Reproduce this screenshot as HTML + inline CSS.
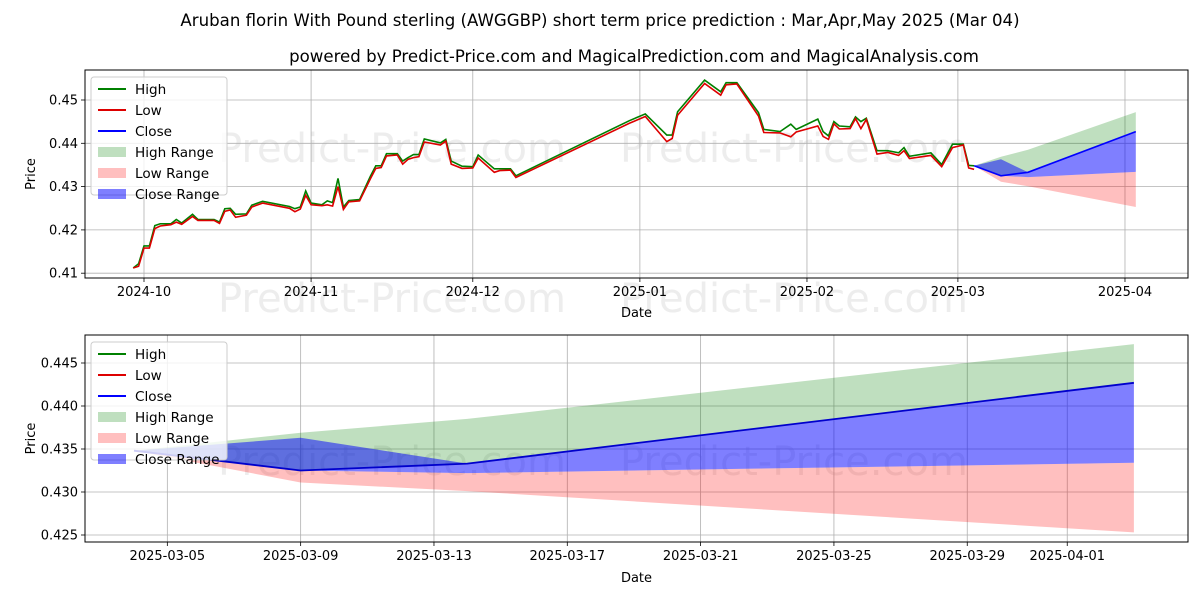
<!DOCTYPE html>
<html><head><meta charset="utf-8"><style>
html,body{margin:0;padding:0;background:#fff;}
svg{display:block;font-family:"DejaVu Sans","Liberation Sans",sans-serif;}
</style></head><body>
<svg id="c" width="1200" height="600" xmlns="http://www.w3.org/2000/svg">
<text x="600" y="26" text-anchor="middle" font-size="16.6">Aruban florin With Pound sterling (AWGGBP) short term price prediction : Mar,Apr,May 2025 (Mar 04)</text>
<text x="634" y="62" text-anchor="middle" font-size="16.6">powered by Predict-Price.com and MagicalPrediction.com and MagicalAnalysis.com</text>
<g fill="#e6e6e6" font-size="40" opacity="0.7">
<text x="218" y="162">Predict-Price.com</text><text x="620" y="162">Predict-Price.com</text>
<text x="218" y="312">Predict-Price.com</text><text x="620" y="312">Predict-Price.com</text>
<text x="218" y="475">Predict-Price.com</text><text x="620" y="475">Predict-Price.com</text>
</g>
<g id="top"></g><g id="bot"></g>
</svg>
<script>
// Top chart: days since 2024-10-01
const histDays=[-2,-1,0,1,2,3,5,6,7,9,10,13,14,15,16,17,19,20,22,27,28,29,30,31,33,34,35,36,37,38,40,42,43,44,45,47,48,49,50,51,52,55,56,57,59,61,62,65,66,68,69,90,93,97,98,99,104,107,108,110,114,115,118,120,121,125,126,127,128,129,131,132,133,134,136,138,140,141,142,146,148,150,152,153,154];
const histHigh=[0.4112,0.4122,0.4163,0.4163,0.4210,0.4214,0.4214,0.4224,0.4216,0.4236,0.4224,0.4224,0.4218,0.4249,0.4250,0.4236,0.4237,0.4257,0.4266,0.4254,0.4249,0.4253,0.4290,0.4262,0.4258,0.4267,0.4263,0.4319,0.4253,0.4268,0.4270,0.4324,0.4348,0.4348,0.4376,0.4376,0.4359,0.4367,0.4374,0.4374,0.4410,0.4401,0.4409,0.4359,0.4347,0.4346,0.4373,0.4341,0.4341,0.4341,0.4325,0.4452,0.4468,0.4419,0.4419,0.4473,0.4546,0.4519,0.4540,0.4540,0.4471,0.4432,0.4427,0.4444,0.4432,0.4456,0.4427,0.4417,0.4450,0.4440,0.4438,0.4461,0.4450,0.4458,0.4383,0.4383,0.4378,0.4390,0.4370,0.4378,0.4351,0.4398,0.4398,0.4349,0.4348];
const histLow=[0.4112,0.4116,0.4158,0.4158,0.4203,0.4209,0.4212,0.4218,0.4213,0.4231,0.4222,0.4222,0.4215,0.4243,0.4246,0.4229,0.4234,0.4253,0.4262,0.4250,0.4242,0.4248,0.4280,0.4258,0.4256,0.4258,0.4255,0.4300,0.4247,0.4265,0.4267,0.4318,0.4342,0.4344,0.4371,0.4373,0.4352,0.4363,0.4367,0.4369,0.4403,0.4396,0.4405,0.4352,0.4342,0.4343,0.4366,0.4333,0.4337,0.4338,0.4321,0.4446,0.4462,0.4404,0.4411,0.4465,0.4538,0.4511,0.4535,0.4537,0.4463,0.4425,0.4424,0.4415,0.4426,0.4440,0.4416,0.4409,0.4445,0.4433,0.4434,0.4457,0.4434,0.4455,0.4375,0.4379,0.4372,0.4383,0.4365,0.4372,0.4346,0.4390,0.4396,0.4343,0.4340];
// Forecast: days since 2025-03-04
const fcDays=[0,5,10,30];
const fcClose=[0.4348,0.4325,0.4333,0.4427];
const fcHighHi=[0.4348,0.4369,0.4385,0.4472];
const fcHighLo=[0.4348,0.4325,0.4333,0.4427];
const fcLowHi=[0.4348,0.4325,0.4322,0.4334];
const fcLowLo=[0.4348,0.4311,0.4301,0.4253];
const fcCloseHi=[0.4348,0.4363,0.4333,0.4427];
const fcCloseLo=[0.4348,0.4325,0.4322,0.4334];
const topTicks=["2024-10","2024-11","2024-12","2025-01","2025-02","2025-03","2025-04"];
const topTickDays=[0,31,61,92,123,151,182];
const topYTicks=[0.41,0.42,0.43,0.44,0.45];
const botTicks=["2025-03-05","2025-03-09","2025-03-13","2025-03-17","2025-03-21","2025-03-25","2025-03-29","2025-04-01"];
const botTickDays=[1,5,9,13,17,21,25,28];
const botYTicks=[0.425,0.430,0.435,0.440,0.445];

const NS="http://www.w3.org/2000/svg";
function mk(p,t,a){const e=document.createElementNS(NS,t);for(const k in a)e.setAttribute(k,a[k]);p.appendChild(e);return e;}
function pathOf(xs,ys){return xs.map((x,i)=>(i?"L":"M")+x.toFixed(1)+","+ys[i].toFixed(1)).join("");}
function band(g,X,Y,d,hi,lo,fill,name){
  const up=d.map((v,i)=>[X(v),Y(hi[i])]);const dn=d.map((v,i)=>[X(v),Y(lo[i])]).reverse();
  const e=mk(g,"path",{d:"M"+up.concat(dn).map(p=>p[0].toFixed(1)+","+p[1].toFixed(1)).join("L")+"Z",fill:fill});
  
  
}
function axes(g,L,T,R,B,X,Y,xt,xl,yt,yfmt,xTitleY,pre){
  xt.forEach((d,i)=>{const x=X(d);
    const l=mk(g,"line",{x1:x,x2:x,y1:T,y2:B,stroke:"#b0b0b0","stroke-width":0.8});
    
    
    mk(g,"line",{x1:x,x2:x,y1:B,y2:B+4,stroke:"#000","stroke-width":0.8});
    const t=mk(g,"text",{x:x,y:B+18,"text-anchor":"middle","font-size":13});t.textContent=xl[i];
    
    
  });
  yt.forEach(v=>{const y=Y(v);
    const l=mk(g,"line",{x1:L,x2:R,y1:y,y2:y,stroke:"#b0b0b0","stroke-width":0.8});
    
    
    mk(g,"line",{x1:L-4,x2:L,y1:y,y2:y,stroke:"#000","stroke-width":0.8});
    const t=mk(g,"text",{x:L-7,y:y+4.5,"text-anchor":"end","font-size":13});t.textContent=yfmt(v);
    
    
  });
  const xt2=mk(g,"text",{x:(L+R)/2,y:xTitleY,"text-anchor":"middle","font-size":13});xt2.textContent="Date";
  
  
  const yc=(T+B)/2;
  const yt2=mk(g,"text",{x:35,y:yc,"text-anchor":"middle","font-size":13,transform:"rotate(-90 35 "+yc+")"});yt2.textContent="Price";
  
  
}
function legend(g,x,y,pre){
  const box=mk(g,"rect",{x:x,y:y,width:136,height:118,rx:3,fill:"#fff","fill-opacity":0.8,stroke:"#ccc"});
  
  
  const items=[["High","line","green"],["Low","line","#d00"],["Close","line","blue"],["High Range","rect","rgba(0,128,0,0.25)"],["Low Range","rect","rgba(255,0,0,0.25)"],["Close Range","rect","rgba(0,0,255,0.5)"]];
  items.forEach((it,i)=>{const cy=y+12+i*21;
    if(it[1]=="line")mk(g,"line",{x1:x+7,x2:x+35,y1:cy,y2:cy,stroke:it[2],"stroke-width":2});
    else mk(g,"rect",{x:x+7,y:cy-5,width:28,height:10,fill:it[2]});
    const t=mk(g,"text",{x:x+44,y:cy+5,"font-size":13.6});t.textContent=it[0];
    
    
  });
}
// TOP
(function(){
  const g=document.getElementById("top");
  const L=85,R=1188,T=70,B=278;
  const X=d=>144+d*5.39, Y=v=>143.3-(v-0.44)*4330;
  axes(g,L,T,R,B,X,Y,topTickDays,topTicks,topYTicks,v=>v.toFixed(2),317,"top-");
  band(g,X,Y,fcDays.map(d=>d+154),fcHighHi,fcHighLo,"rgba(0,128,0,0.25)","top-high-range");
  band(g,X,Y,fcDays.map(d=>d+154),fcLowHi,fcLowLo,"rgba(255,0,0,0.25)","top-low-range");
  band(g,X,Y,fcDays.map(d=>d+154),fcCloseHi,fcCloseLo,"rgba(0,0,255,0.5)","top-close-range");
  const h=mk(g,"path",{d:pathOf(histDays.map(X),histHigh.map(Y)),fill:"none",stroke:"green","stroke-width":1.6});
  
  
  const l=mk(g,"path",{d:pathOf(histDays.map(X),histLow.map(Y)),fill:"none",stroke:"#d00","stroke-width":1.6});
  
  
  const c=mk(g,"path",{d:pathOf(fcDays.map(d=>X(d+154)),fcClose.map(Y)),fill:"none",stroke:"blue","stroke-width":1.6});
  
  
  mk(g,"rect",{x:L,y:T,width:R-L,height:B-T,fill:"none",stroke:"#000","stroke-width":1});
  legend(g,91,77,"top-");
})();
// BOTTOM
(function(){
  const g=document.getElementById("bot");
  const L=85,R=1188,T=335,B=542;
  const X=d=>134+d*33.33, Y=v=>449-(v-0.435)*8600;
  axes(g,L,T,R,B,X,Y,botTickDays,botTicks,botYTicks,v=>v.toFixed(3),582,"bottom-");
  band(g,X,Y,fcDays,fcHighHi,fcHighLo,"rgba(0,128,0,0.25)","bottom-high-range");
  band(g,X,Y,fcDays,fcLowHi,fcLowLo,"rgba(255,0,0,0.25)","bottom-low-range");
  band(g,X,Y,fcDays,fcCloseHi,fcCloseLo,"rgba(0,0,255,0.5)","bottom-close-range");
  const c=mk(g,"path",{d:pathOf(fcDays.map(X),fcClose.map(Y)),fill:"none",stroke:"#0000cc","stroke-width":1.8});
  
  
  mk(g,"rect",{x:L,y:T,width:R-L,height:B-T,fill:"none",stroke:"#000","stroke-width":1});
  legend(g,91,342,"bottom-");
})();
</script>
</body></html>
